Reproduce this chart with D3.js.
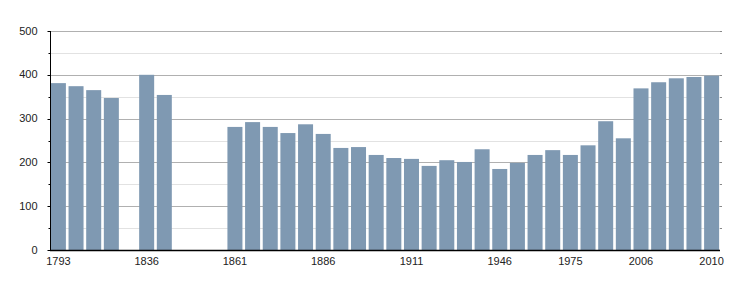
<!DOCTYPE html>
<html>
<head>
<meta charset="utf-8">
<script src="https://cdn.jsdelivr.net/npm/d3@7"></script>
<style>
  body { margin: 0; background: #fff; }
  text { font-family: "Liberation Sans", Arial, sans-serif; font-size: 11px; fill: #222; }
</style>
</head>
<body>
<div id="chart"></div>
<script>
// census years (one slot each), population (null = no census figure)
var years = ["1793", "1800", "1806", "1821", "1831", "1836", "1841", "1846", "1851", "1856",
    "1861", "1866", "1872", "1876", "1881", "1886", "1891", "1896", "1901", "1906",
    "1911", "1921", "1926", "1931", "1936", "1946", "1954", "1962", "1968", "1975",
    "1982", "1990", "1999", "2006", "2007", "2008", "2009", "2010"];
var population = [381, 374, 365, 347, null, 400, 354, null, null, null,
    281, 292, 281, 267, 287, 265, 233, 235, 217, 210,
    208, 192, 205, 201, 230, 185, 199, 217, 228, 217,
    239, 294, 255, 369, 383, 392, 395, 398];
var xTickLabels = ["1793", "1836", "1861", "1886", "1911", "1946", "1975", "2006", "2010"];
var yTicks = [0, 100, 200, 300, 400, 500];

var width = 750, height = 300;
var margin = { left: 50, top: 31, right: 30, bottom: 50 };

var svg = d3.select("#chart").append("svg")
    .attr("width", width)
    .attr("height", height);

var x = d3.scaleBand()
    .domain(years)
    .range([margin.left, width - margin.right])
    .paddingInner(0.15)
    .paddingOuter(0.05);

var y = d3.scaleLinear()
    .domain([0, 500])
    .range([height - margin.bottom, margin.top]);

var x0 = margin.left, x1 = width - margin.right;

// grid: minor every 50, major every 100
var minor = d3.range(50, 500, 100);
svg.append("g").selectAll("line")
    .data(minor).enter().append("line")
    .attr("x1", x0).attr("x2", x1 + 2)
    .attr("y1", function (d) { return Math.round(y(d)) + 0.5; })
    .attr("y2", function (d) { return Math.round(y(d)) + 0.5; })
    .style("stroke", "#e2e2e2");

svg.append("g").selectAll("line")
    .data(yTicks.slice(1)).enter().append("line")
    .attr("x1", x0).attr("x2", x1 + 2)
    .attr("y1", function (d) { return Math.round(y(d)) + 0.5; })
    .attr("y2", function (d) { return Math.round(y(d)) + 0.5; })
    .style("stroke", "#b0b0b0");

// right-hand little ticks
svg.append("g").selectAll("line")
    .data(minor.concat(yTicks.slice(1))).enter().append("line")
    .attr("x1", x1).attr("x2", x1 + 2)
    .attr("y1", function (d) { return Math.round(y(d)) + 0.5; })
    .attr("y2", function (d) { return Math.round(y(d)) + 0.5; })
    .style("stroke", "#888");

// bars
svg.append("g").selectAll("rect")
    .data(years.map(function (d, i) { return { year: d, value: population[i] }; })
        .filter(function (d) { return d.value != null; }))
    .enter().append("rect")
    .attr("x", function (d) { return x(d.year); })
    .attr("width", x.bandwidth())
    .attr("y", function (d) { return y(d.value); })
    .attr("height", function (d) { return y(0) - y(d.value); })
    .style("fill", "#7f99b2");

// y axis
var yAxis = svg.append("g")
    .attr("transform", "translate(" + (x0 + 0.5) + ",0)");
yAxis.append("line")
    .attr("y1", y(500)).attr("y2", y(0))
    .style("stroke", "#000");
yAxis.selectAll(".major").data(yTicks).enter().append("line")
    .attr("x1", -3).attr("x2", 0)
    .attr("y1", function (d) { return Math.round(y(d)) + 0.5; })
    .attr("y2", function (d) { return Math.round(y(d)) + 0.5; })
    .style("stroke", "#000");
yAxis.selectAll(".minor").data(minor).enter().append("line")
    .attr("x1", -2).attr("x2", 0)
    .attr("y1", function (d) { return Math.round(y(d)) + 0.5; })
    .attr("y2", function (d) { return Math.round(y(d)) + 0.5; })
    .style("stroke", "#000");
yAxis.selectAll("text").data(yTicks).enter().append("text")
    .attr("x", -13)
    .attr("y", function (d) { return y(d); })
    .attr("dy", "0.32em")
    .attr("text-anchor", "end")
    .text(function (d) { return d; });

// x axis
svg.append("line")
    .attr("x1", x0).attr("x2", x1)
    .attr("y1", y(0) + 0.5).attr("y2", y(0) + 0.5)
    .style("stroke", "#000")
    .style("stroke-width", 1.5);

svg.append("g").selectAll("text")
    .data(xTickLabels).enter().append("text")
    .attr("x", function (d) { return x(d) + x.bandwidth() / 2; })
    .attr("y", y(0) + 15)
    .attr("text-anchor", "middle")
    .text(function (d) { return d; });
</script>
</body>
</html>
